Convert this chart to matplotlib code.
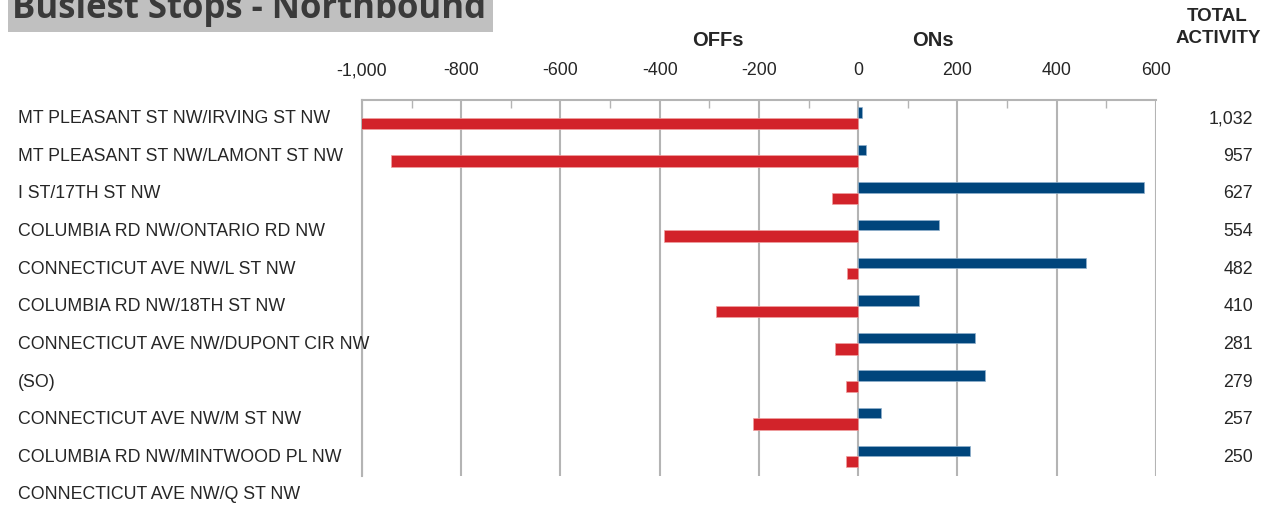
import matplotlib
matplotlib.use("Agg")
import matplotlib.pyplot as plt
from matplotlib import transforms
from matplotlib.patches import Rectangle
from matplotlib.ticker import FuncFormatter, MultipleLocator

stops = [
    "MT PLEASANT ST NW/IRVING ST NW",
    "MT PLEASANT ST NW/LAMONT ST NW",
    "I ST/17TH ST NW",
    "COLUMBIA RD NW/ONTARIO RD NW",
    "CONNECTICUT AVE NW/L ST NW",
    "COLUMBIA RD NW/18TH ST NW",
    "CONNECTICUT AVE NW/DUPONT CIR NW",
    "(SO)",
    "CONNECTICUT AVE NW/M ST NW",
    "COLUMBIA RD NW/MINTWOOD PL NW",
    "CONNECTICUT AVE NW/Q ST NW",
]
ons = [8, 16, 575, 163, 460, 123, 235, 255, 45, 225]
offs = [1024, 941, 52, 391, 22, 287, 46, 24, 212, 25]
totals = [1032, 957, 627, 554, 482, 410, 281, 279, 257, 250]

RED = "#d2232a"
BLUE = "#00457c"
GRID = "#b4b4b4"
TXT = "#262626"

plt.rcParams["font.family"] = ["Liberation Sans", "DejaVu Sans"]

fig = plt.figure(figsize=(12.7, 5.07), dpi=100)
ax = fig.add_axes([0.285, 0.0611, 0.6252, 0.7417])

n = len(ons)
centers = [i + 0.5 for i in range(n)]
ax.barh([c - 0.17 for c in centers], ons, height=0.28, color=BLUE,
        edgecolor="#8fb0cc", linewidth=0.5, zorder=3)
ax.barh([c + 0.12 for c in centers], [-v for v in offs], height=0.30,
        color=RED, edgecolor="#f0a0a0", linewidth=0.5, zorder=3)

ax.set_xlim(-1000, 600)
ax.set_ylim(n, 0)
ax.xaxis.set_major_locator(MultipleLocator(200))
ax.xaxis.set_minor_locator(MultipleLocator(100))
ax.xaxis.set_major_formatter(FuncFormatter(lambda v, p: f"{v:,.0f}".replace("\u2212", "-")))
ax.xaxis.tick_top()
ax.tick_params(axis="x", which="major", length=0, pad=15, labelsize=12.8, labelcolor=TXT)
ax.tick_params(axis="x", which="minor", direction="in", length=6, width=1, color=GRID)
ax.set_yticks([])
ax.grid(axis="x", which="major", color=GRID, linewidth=1.5, zorder=0)
for side in ["right", "bottom"]:
    ax.spines[side].set_visible(False)
for side in ["left", "top"]:
    ax.spines[side].set_color(GRID)
    ax.spines[side].set_linewidth(1.5)

# stop names on the left, totals on the right
tr = transforms.blended_transform_factory(fig.transFigure, ax.transData)
for i, name in enumerate(stops):
    ax.text(0.0142, i + 0.5, name, transform=tr, ha="left", va="center",
            fontsize=12.8, color=TXT, clip_on=False)
for i, t in enumerate(totals):
    ax.text(0.9866, i + 0.5, f"{t:,}", transform=tr, ha="right", va="center",
            fontsize=12.8, color=TXT, clip_on=False)

fig.text(0.565, 0.921, "OFFs", ha="center", va="center", fontsize=14.5,
         fontweight="bold", color=TXT)
fig.text(0.7345, 0.921, "ONs", ha="center", va="center", fontsize=14.5,
         fontweight="bold", color=TXT)
fig.text(0.9585, 0.968, "TOTAL", ha="center", va="center", fontsize=13.5,
         fontweight="bold", color=TXT)
fig.text(0.9595, 0.925, "ACTIVITY", ha="center", va="center", fontsize=13.5,
         fontweight="bold", color=TXT)

# title banner
fig.patches.append(Rectangle((8 / 1270, 1 - 32 / 507), 485 / 1270, 32 / 507,
                             transform=fig.transFigure, facecolor="#c0c0c0",
                             edgecolor="none", zorder=0))
fig.text(12 / 1270, 1 - 18 / 507, "Busiest Stops - Northbound", ha="left",
         va="baseline", fontsize=25, fontweight="bold", family="Open Sans",
         color="#3a3a3a")

fig.savefig("out.png", dpi=100)
